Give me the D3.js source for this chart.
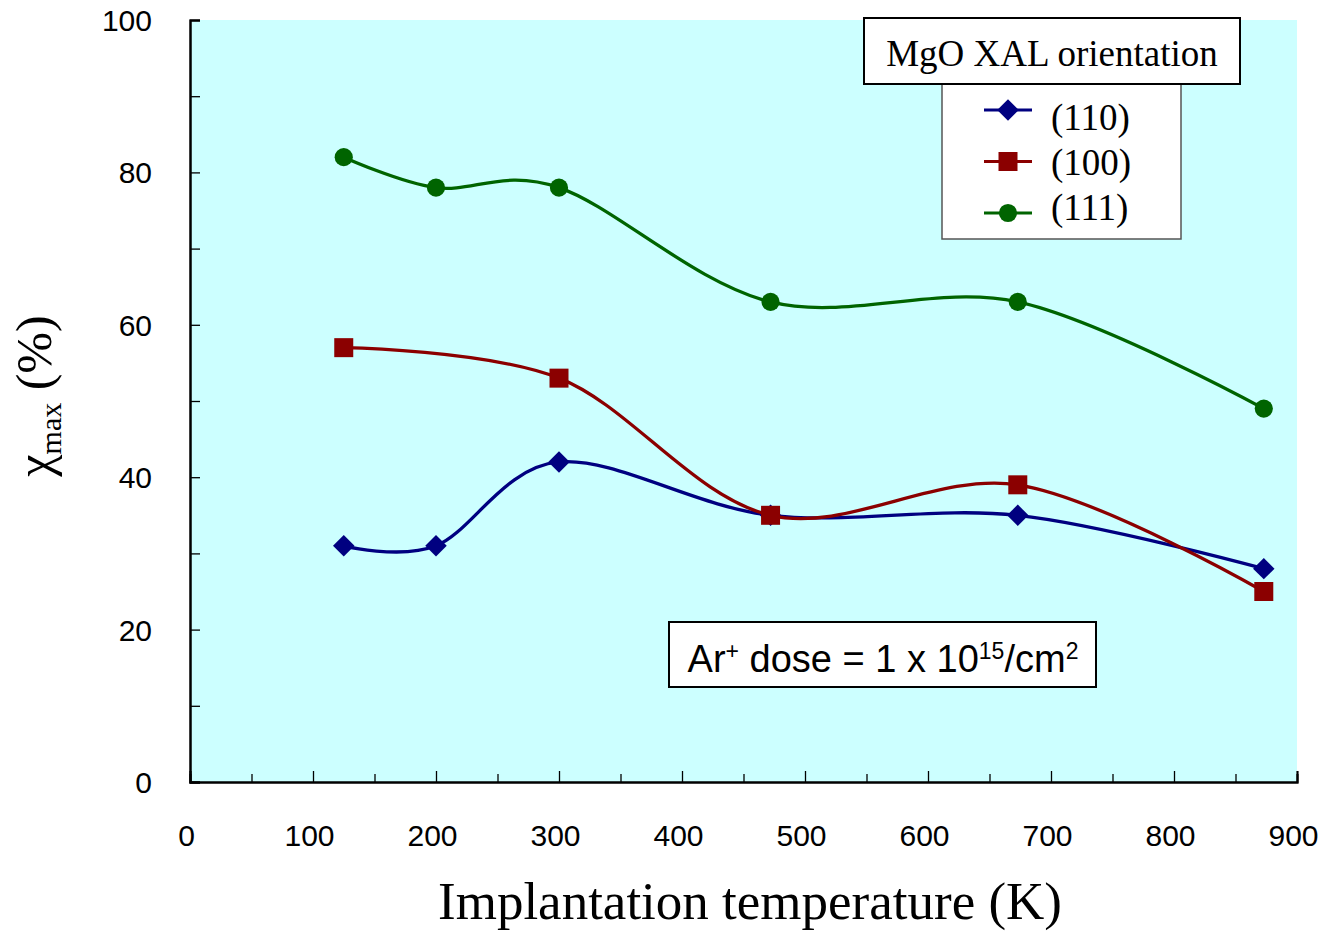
<!DOCTYPE html>
<html>
<head>
<meta charset="utf-8">
<script src="https://cdn.jsdelivr.net/npm/d3@7"></script>
<style>
  body { margin: 0; background: #fff; }
  svg { display: block; }
</style>
</head>
<body>
<div id="chart"></div>
<script>
// data
var temps110 = [125, 200, 300, 472, 673, 873];
var vals110 = [31, 31, 42, 35, 35, 28];
var temps100 = [125, 300, 472, 673, 873];
var vals100 = [57, 53, 35, 39, 25];
var temps111 = [125, 200, 300, 472, 673, 873];
var vals111 = [82, 78, 78, 63, 63, 49];
var seriesNames = ["(110)", "(100)", "(111)"];
var xTicks = [0, 100, 200, 300, 400, 500, 600, 700, 800, 900];
var yTicks = [0, 20, 40, 60, 80, 100];

var W = 1323, H = 934;
var margin = {left: 190, right: 26, top: 20, bottom: 152};
var width = W - margin.left - margin.right;
var height = H - margin.top - margin.bottom;

var diamond = {
  draw: function (ctx, size) {
    var r = Math.sqrt(size / 2);
    ctx.moveTo(0, -r); ctx.lineTo(r, 0); ctx.lineTo(0, r); ctx.lineTo(-r, 0); ctx.closePath();
  }
};

var series = [
  {name: seriesNames[0], color: "#000080", shape: diamond, size: 230,
   pts: temps110.map(function (t, i) { return [t, vals110[i]]; })},
  {name: seriesNames[1], color: "#8b0000", shape: d3.symbolSquare, size: 361,
   pts: temps100.map(function (t, i) { return [t, vals100[i]]; })},
  {name: seriesNames[2], color: "#006400", shape: d3.symbolCircle, size: 260,
   pts: temps111.map(function (t, i) { return [t, vals111[i]]; })}
];

var x = d3.scaleLinear().domain([0, 900]).range([0, width]);
var y = d3.scaleLinear().domain([0, 100]).range([height, 0]);

var svg = d3.select('#chart').append('svg')
  .attr('width', W)
  .attr('height', H);

var g = svg.append('g').attr('transform', 'translate(' + margin.left + ',' + margin.top + ')');

g.append('rect')
  .attr('width', width)
  .attr('height', height)
  .style('fill', '#ccffff');

// ticks point inward
var xAxisMinor = d3.axisBottom(x).tickValues(d3.range(50, 900, 100)).tickSize(-8).tickFormat('');
var xAxis = d3.axisBottom(x).tickValues(xTicks).tickSize(-11).tickPadding(43).tickFormat(d3.format('d'));
var yAxisMinor = d3.axisLeft(y).tickValues(d3.range(10, 100, 20)).tickSize(-10).tickFormat('');
var yAxis = d3.axisLeft(y).tickValues(yTicks).tickSize(-10).tickPadding(38).tickFormat(d3.format('d'));

function styleAxis(sel) {
  sel.select('.domain').attr('stroke', '#000').attr('stroke-width', 2);
  sel.selectAll('.tick line').attr('stroke', '#000').attr('stroke-width', 1.3);
  sel.selectAll('.tick text')
    .style('font-family', 'Liberation Sans, Arial, sans-serif')
    .style('font-size', '30px')
    .attr('fill', '#000');
}

g.append('g').attr('transform', 'translate(0,' + height + ')').call(xAxisMinor).call(styleAxis);
g.append('g').attr('transform', 'translate(0,' + height + ')').call(xAxis).call(styleAxis)
  .selectAll('.tick text').attr('dy', '0.71em').attr('dx', -4);
g.append('g').call(yAxisMinor).call(styleAxis);
g.append('g').call(yAxis).call(styleAxis)
  .selectAll('.tick text').attr('dy', '0.35em');

// lines + markers
var line = d3.line()
  .x(function (d) { return x(d[0]); })
  .y(function (d) { return y(d[1]); })
  .curve(d3.curveCardinal.tension(0));

series.forEach(function (s) {
  g.append('path')
    .datum(s.pts)
    .attr('d', line)
    .attr('fill', 'none')
    .attr('stroke', s.color)
    .attr('stroke-width', 3.3);
  g.selectAll(null)
    .data(s.pts)
    .enter().append('path')
    .attr('d', d3.symbol().type(s.shape).size(s.size))
    .attr('transform', function (d) { return 'translate(' + x(d[0]) + ',' + y(d[1]) + ')'; })
    .attr('fill', s.color);
});

// axis titles
svg.append('text')
  .attr('x', 750)
  .attr('y', 919)
  .attr('text-anchor', 'middle')
  .style('font-family', 'Liberation Serif, Times New Roman, serif')
  .style('font-size', '53px')
  .text('Implantation temperature (K)');

var yt = svg.append('text')
  .attr('transform', 'translate(51,396) rotate(-90)')
  .attr('text-anchor', 'middle')
  .style('font-family', 'Liberation Serif, Times New Roman, serif')
  .style('font-size', '50px');
yt.append('tspan').text('\u03c7');
yt.append('tspan').attr('dy', 10).style('font-size', '30px').text('max');
yt.append('tspan').attr('dy', -10).text(' (%)');

// legend
svg.append('rect')
  .attr('x', 942).attr('y', 84).attr('width', 239).attr('height', 155)
  .attr('fill', '#fff').attr('stroke', '#555').attr('stroke-width', 1.5);
svg.append('rect')
  .attr('x', 864).attr('y', 18).attr('width', 376).attr('height', 66)
  .attr('fill', '#fff').attr('stroke', '#000').attr('stroke-width', 2);
svg.append('text')
  .attr('x', 1052).attr('y', 66)
  .attr('text-anchor', 'middle')
  .style('font-family', 'Liberation Serif, Times New Roman, serif')
  .style('font-size', '37px')
  .text('MgO XAL orientation');

var legY = d3.scalePoint().domain(seriesNames).range([110, 213]);
var legTextY = d3.scalePoint().domain(seriesNames).range([130, 220]);
series.forEach(function (s) {
  var ly = legY(s.name);
  svg.append('line')
    .attr('x1', 984).attr('x2', 1032).attr('y1', ly).attr('y2', ly)
    .attr('stroke', s.color).attr('stroke-width', 3);
  svg.append('path')
    .attr('d', d3.symbol().type(s.shape).size(s.size))
    .attr('transform', 'translate(1008,' + ly + ')')
    .attr('fill', s.color);
  svg.append('text')
    .attr('x', 1051).attr('y', legTextY(s.name))
    .style('font-family', 'Liberation Serif, Times New Roman, serif')
    .style('font-size', '37px')
    .text(s.name);
});

// dose annotation
svg.append('rect')
  .attr('x', 669).attr('y', 622).attr('width', 427).attr('height', 65)
  .attr('fill', '#fff').attr('stroke', '#000').attr('stroke-width', 2);
var ann = svg.append('text')
  .attr('x', 883).attr('y', 672)
  .attr('text-anchor', 'middle')
  .style('font-family', 'Liberation Sans, Arial, sans-serif')
  .style('font-size', '38px');
ann.append('tspan').text('Ar');
ann.append('tspan').attr('dy', -13).style('font-size', '23px').text('+');
ann.append('tspan').attr('dy', 13).text(' dose = 1 x 10');
ann.append('tspan').attr('dy', -13).style('font-size', '23px').text('15');
ann.append('tspan').attr('dy', 13).text('/cm');
ann.append('tspan').attr('dy', -13).style('font-size', '23px').text('2');
</script>
</body>
</html>
